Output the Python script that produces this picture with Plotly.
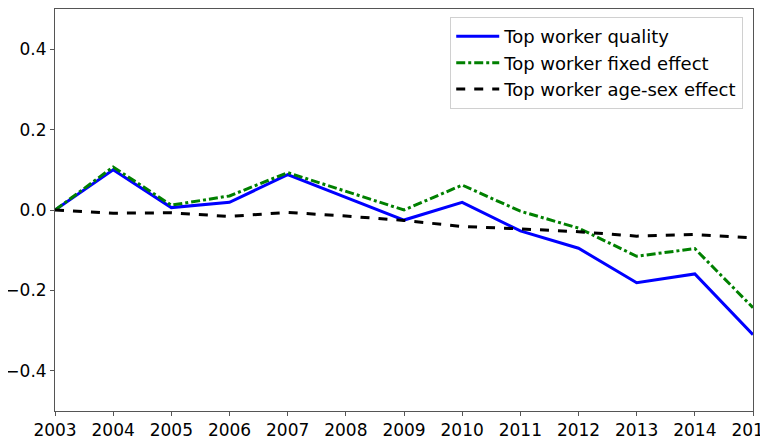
import plotly.graph_objects as go

years = list(range(2003, 2016))
quality = [0.0, 0.100, 0.006, 0.019, 0.088, 0.032, -0.025, 0.019, -0.052, -0.095, -0.181, -0.159, -0.310]
fixed_effect = [0.0, 0.107, 0.012, 0.035, 0.093, 0.047, 0.000, 0.062, -0.003, -0.045, -0.115, -0.096, -0.243]
age_sex = [0.0, -0.008, -0.007, -0.016, -0.006, -0.015, -0.026, -0.041, -0.047, -0.054, -0.065, -0.061, -0.069]

y_ticks = [-0.4, -0.2, 0.0, 0.2, 0.4]

fig = go.Figure()
fig.add_trace(go.Scatter(x=years, y=quality, mode="lines", name="Top worker quality",
                         line=dict(color="#0000ff", width=3)))
fig.add_trace(go.Scatter(x=years, y=fixed_effect, mode="lines", name="Top worker fixed effect",
                         line=dict(color="#008000", width=3, dash="dashdot")))
fig.add_trace(go.Scatter(x=years, y=age_sex, mode="lines", name="Top worker age-sex effect",
                         line=dict(color="#000000", width=3, dash="dash")))

axis_common = dict(showgrid=False, zeroline=False, showline=True, mirror=True,
                   linecolor="#555555", linewidth=1, ticks="outside", ticklen=4,
                   tickcolor="#555555", ticklabeloverflow="allow",
                   tickfont=dict(family="DejaVu Sans", size=17, color="black"))

fig.update_layout(
    width=760, height=433,
    margin=dict(l=47, r=15, t=1, b=30, autoexpand=False),
    paper_bgcolor="white", plot_bgcolor="white",
    font=dict(family="DejaVu Sans", size=17, color="black"),
    xaxis=dict(range=[2003, 2015], tickvals=years, ticktext=[str(y) for y in years], **axis_common),
    yaxis=dict(range=[-0.5, 0.5], tickvals=y_ticks, tickformat=".1f", **axis_common),
    legend=dict(x=0.986, y=0.98, xanchor="right", yanchor="top",
                bordercolor="#d0d0d0", borderwidth=1, bgcolor="rgba(255,255,255,0.8)",
                font=dict(family="DejaVu Sans", size=18), tracegroupgap=0, itemwidth=43),
    showlegend=True,
)

fig.write_html("out.html")
